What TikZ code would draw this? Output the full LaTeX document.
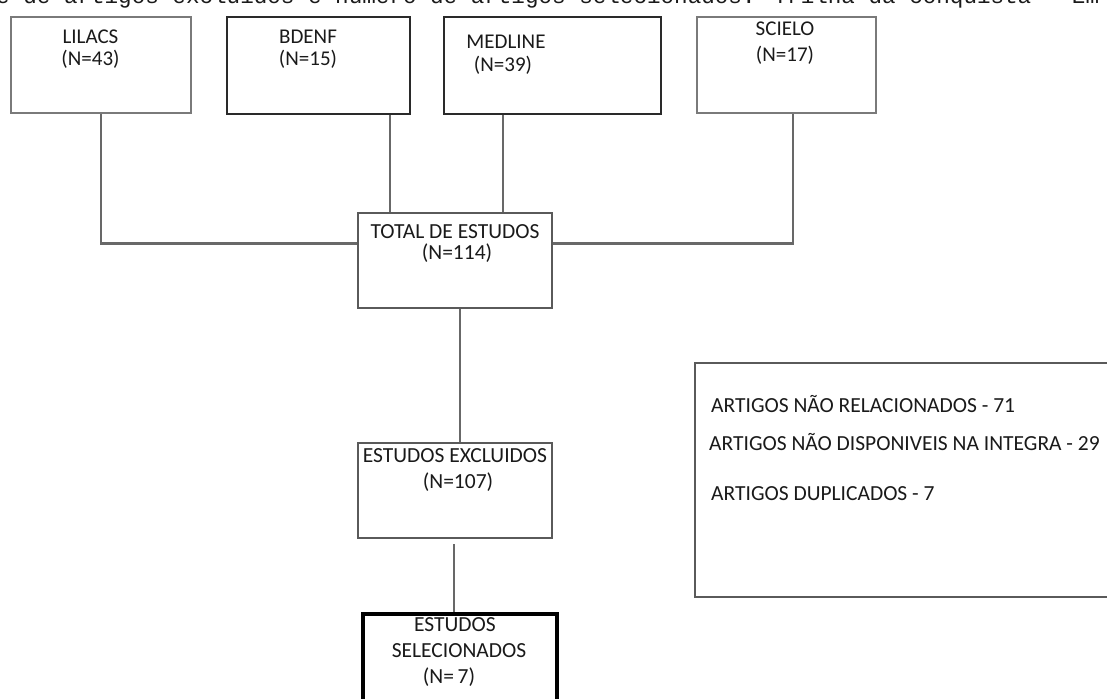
\documentclass[tikz,border=0pt]{standalone}
\usepackage{fontspec}
\setmainfont{Carlito}
\newfontfamily\monofont{Liberation Mono}
\definecolor{lightedge}{HTML}{7A7A7A}
\definecolor{darkedge}{HTML}{2A2A2A}
\definecolor{midedge}{HTML}{5A5A5A}
\definecolor{connclr}{HTML}{686868}
\definecolor{txtclr}{HTML}{1A1A1A}
\begin{document}
\begin{tikzpicture}[x=1pt,y=-1pt,
  box/.style={draw=#1, line width=1.9pt, anchor=north west, inner sep=0pt, fill=white},
  lbl/.style={anchor=base, inner sep=0pt, text=txtclr, font=\fontsize{21}{25}\selectfont},
  biglbl/.style={anchor=base, inner sep=0pt, text=txtclr, font=\fontsize{21.5}{26}\selectfont},
  leftlbl/.style={anchor=base west, inner sep=0pt, text=txtclr, font=\fontsize{21.5}{26}\selectfont},
  conn/.style={draw=connclr, line width=2.2pt}]
\useasboundingbox (0,0) rectangle (1107,698);
\fill[white] (0,0) rectangle (1107,698);

% clipped caption line at the very top
\node[anchor=base west, inner sep=0pt, text=txtclr, font=\monofont\fontsize{22.6}{26}\selectfont] (caption) at (-4,4) {e de artigos excluídos e número de artigos selecionados. Trilha da conquista - Em};

% source boxes
\node[box=lightedge, minimum width=180pt, minimum height=96pt] (lil) at (10,16) {};
\node[box=darkedge, minimum width=183pt, minimum height=97pt] (bd) at (226,16) {};
\node[box=darkedge, minimum width=217pt, minimum height=97pt] (med) at (443,16) {};
\node[box=lightedge, minimum width=179pt, minimum height=96pt] (sc) at (696,16) {};

\node[lbl] (lilA) at (90.5,44) {LILACS};
\node[lbl] (lilB) at (90.5,66) {(N=43)};
\node[lbl] (bdA) at (308,44) {BDENF};
\node[lbl] (bdB) at (308,66) {(N=15)};
\node[lbl] (medA) at (506,49) {MEDLINE};
\node[lbl] (medB) at (503,72) {(N=39)};
\node[lbl] (scA) at (785,36) {SCIELO};
\node[lbl] (scB) at (785,62) {(N=17)};

% total
\node[box=midedge, minimum width=194pt, minimum height=95pt] (tot) at (357,212) {};
\node[biglbl] (totA) at (455,238) {TOTAL DE ESTUDOS};
\node[biglbl] (totB) at (457,259) {(N=114)};

% excluded
\node[box=midedge, line width=2.4pt, minimum width=194pt, minimum height=95pt] (exc) at (357,442) {};
\node[biglbl] (excA) at (455,462) {ESTUDOS EXCLUIDOS};
\node[biglbl] (excB) at (458,488) {(N=107)};

% selected
\node[box=black, line width=3.6pt, minimum width=194pt, minimum height=110pt] (sel) at (361,612) {};
\node[biglbl] (selA) at (455,631) {ESTUDOS};
\node[biglbl] (selB) at (459,657) {SELECIONADOS};
\node[biglbl] (selC) at (449,683) {(N=\,7)};

% reasons box
\node[box=midedge, line width=2pt, minimum width=430pt, minimum height=234pt] (rsn) at (694,362) {};
\node[leftlbl] (rsnA) at (711,412) {ARTIGOS NÃO RELACIONADOS - 71};
\node[leftlbl] (rsnB) at (709,450) {ARTIGOS NÃO DISPONIVEIS NA INTEGRA - 29};
\node[leftlbl] (rsnC) at (711,500) {ARTIGOS DUPLICADOS - 7};

% connector columns
\coordinate (lilx) at (101,0);
\coordinate (bdx) at (390,0);
\coordinate (medx) at (503,0);
\coordinate (scx) at (793,0);
\coordinate (totx) at (460,0);
\coordinate (excx) at (454,0);

\path[conn] (lil.south -| lilx) |- ([yshift=17pt]tot.west);
\path[conn] (bd.south -| bdx) -- (tot.north -| bdx);
\path[conn] (med.south -| medx) -- (tot.north -| medx);
\path[conn] (sc.south -| scx) |- ([yshift=17pt]tot.east);
\path[conn] (tot.south -| totx) -- (exc.north -| totx);
\path[conn] ([yshift=-5pt]exc.south -| excx) -- (sel.north -| excx);
\end{tikzpicture}
\end{document}
